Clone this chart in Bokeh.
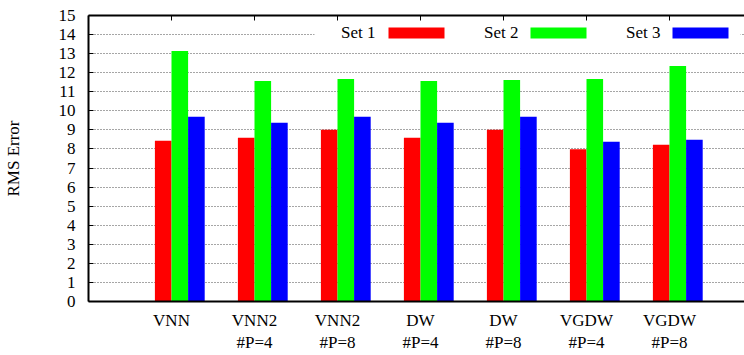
import numpy as np
from bokeh.plotting import figure
from bokeh.models import Range1d, FixedTicker, LinearAxis, Label, BoxAnnotation, ColumnDataSource
from bokeh.embed import file_html
from bokeh.resources import INLINE

categories = ["VNN", "VNN2\n#P=4", "VNN2\n#P=8", "DW\n#P=4", "DW\n#P=8", "VGDW\n#P=4", "VGDW\n#P=8"]
set1 = [8.43, 8.59, 9.01, 8.59, 9.01, 7.98, 8.22]
set2 = [13.14, 11.57, 11.67, 11.57, 11.62, 11.67, 12.35]
set3 = [9.69, 9.37, 9.69, 9.37, 9.69, 8.38, 8.48]
series_names = ["Set 1", "Set 2", "Set 3"]
y_ticks = list(range(0, 16))

FONT = "Liberation Serif, serif"
FS = "17px"
colors = ["#ff0000", "#00ff00", "#0000ff"]

idx = np.arange(len(categories))
p = figure(width=744, height=355, output_backend="svg", toolbar_location=None,
           x_range=Range1d(-1, -1 + 656 / 83), y_range=Range1d(0, 15),
           min_border_left=88, min_border_right=0, min_border_top=15, min_border_bottom=53)
p.outline_line_color = None
p.background_fill_color = "white"
p.border_fill_color = "white"

bw = 0.2
offsets = [-0.1, 0.1, 0.3]
for vals, off, c, name in zip([set1, set2, set3], offsets, colors, series_names):
    src = ColumnDataSource(dict(x=idx + off, top=vals))
    p.vbar(x="x", top="top", width=bw, source=src, fill_color=c, line_color=None)

# y axis
p.yaxis.ticker = FixedTicker(ticks=y_ticks)
p.yaxis.major_tick_in = 5
p.yaxis.major_tick_out = 0
p.yaxis.minor_tick_line_color = None
p.yaxis.axis_line_width = 2
p.yaxis.axis_line_color = "black"
p.yaxis.major_tick_line_color = "black"
p.yaxis.major_label_text_font = FONT
p.yaxis.major_label_text_font_size = FS
p.yaxis.major_label_text_color = "black"
p.yaxis.major_label_standoff = 13
p.yaxis.axis_label = "RMS Error"
p.yaxis.axis_label_text_font = FONT
p.yaxis.axis_label_text_font_size = FS
p.yaxis.axis_label_text_font_style = "normal"
p.yaxis.axis_label_text_color = "black"
p.yaxis.axis_label_standoff = 33

# x axis
p.xaxis.ticker = FixedTicker(ticks=list(idx))
p.xaxis.major_label_overrides = {int(i): c for i, c in zip(idx, categories)}
p.xaxis.major_tick_in = 0
p.xaxis.major_tick_out = 0
p.xaxis.minor_tick_line_color = None
p.xaxis.axis_line_width = 2
p.xaxis.axis_line_color = "black"
p.xaxis.major_label_text_font = FONT
p.xaxis.major_label_text_font_size = FS
p.xaxis.major_label_text_color = "black"
p.xaxis.major_label_standoff = 9

top = LinearAxis(ticker=FixedTicker(ticks=list(idx)))
top.major_tick_in = 5
top.major_tick_out = 0
top.minor_tick_line_color = None
top.axis_line_width = 2
top.axis_line_color = "black"
top.major_label_overrides = {int(i): "" for i in idx}
top.major_label_standoff = 0
p.add_layout(top, "above")

p.xgrid.grid_line_color = None
p.ygrid.ticker = FixedTicker(ticks=y_ticks[1:-1])
p.ygrid.grid_line_color = "black"
p.ygrid.grid_line_alpha = 0.7
p.ygrid.grid_line_dash = "1 2"
p.ygrid.grid_line_width = 1

# legend (text then sample, gnuplot style)
def px2x(px):
    return -1 + (px - 88) / 83

def py2y(py):
    return (302 - py) * 15 / 287

p.add_layout(BoxAnnotation(left=px2x(314), right=px2x(740), top=py2y(23), bottom=py2y(43),
                           fill_color="white", fill_alpha=1, line_color=None, level="annotation"))
text_right = [375, 518, 660]
box_left = [388, 530, 672]
for name, c, tr, bl in zip(series_names, colors, text_right, box_left):
    p.add_layout(Label(x=px2x(tr), y=py2y(32), text=name, text_align="right", text_baseline="middle",
                       text_font=FONT, text_font_size=FS, text_color="black"))
    p.add_layout(BoxAnnotation(left=px2x(bl), right=px2x(bl + 56), top=py2y(27), bottom=py2y(38),
                               fill_color=c, fill_alpha=1, line_color=None))

open("out.html", "w").write(file_html(p, INLINE))
